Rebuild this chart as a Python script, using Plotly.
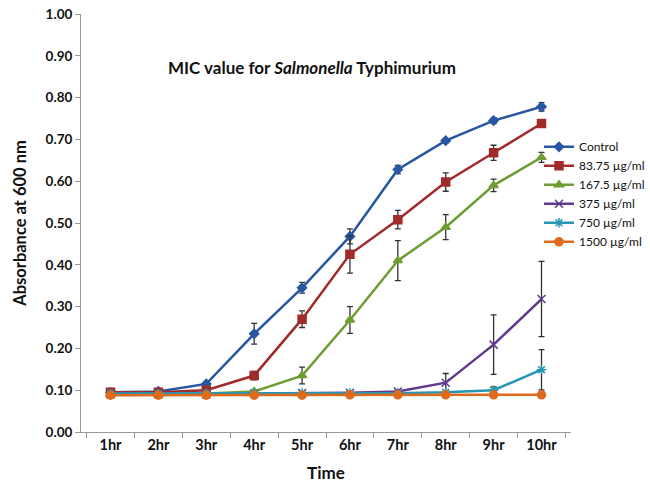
import plotly.graph_objects as go

hours = ["1hr", "2hr", "3hr", "4hr", "5hr", "6hr", "7hr", "8hr", "9hr", "10hr"]

control = [0.095, 0.097, 0.115, 0.235, 0.345, 0.468, 0.628, 0.697, 0.745, 0.778]
control_err = [0.003, 0.003, 0.005, 0.025, 0.013, 0.018, 0.010, 0.005, 0.007, 0.010]

c83 = [0.095, 0.095, 0.100, 0.135, 0.270, 0.425, 0.508, 0.598, 0.668, 0.738]
c83_err = [0.003, 0.003, 0.004, 0.010, 0.020, 0.045, 0.022, 0.022, 0.018, 0.005]

c167 = [0.090, 0.090, 0.092, 0.097, 0.135, 0.268, 0.410, 0.490, 0.590, 0.657]
c167_err = [0.002, 0.002, 0.002, 0.003, 0.020, 0.032, 0.048, 0.030, 0.015, 0.012]

c375 = [0.090, 0.090, 0.090, 0.092, 0.093, 0.094, 0.097, 0.118, 0.209, 0.318]
c375_err = [0.002, 0.002, 0.002, 0.002, 0.003, 0.003, 0.004, 0.022, 0.071, 0.090]

c750 = [0.092, 0.092, 0.092, 0.092, 0.093, 0.093, 0.093, 0.095, 0.100, 0.149]
c750_err = [0.002, 0.002, 0.002, 0.002, 0.003, 0.003, 0.003, 0.003, 0.008, 0.048]

c1500 = [0.088, 0.088, 0.088, 0.088, 0.088, 0.089, 0.089, 0.089, 0.089, 0.089]
c1500_err = [0.001, 0.001, 0.001, 0.001, 0.001, 0.001, 0.001, 0.001, 0.001, 0.001]

series = [
    ("Control", control, control_err, "#2856A3", "diamond", 7),
    ("83.75 µg/ml", c83, c83_err, "#A12A2B", "square", 8),
    ("167.5 µg/ml", c167, c167_err, "#6E9E33", "triangle-up", 8),
    ("375 µg/ml", c375, c375_err, "#5F3A8E", "x-thin", 8),
    ("750 µg/ml", c750, c750_err, "#2596B4", "asterisk", 8),
    ("1500 µg/ml", c1500, c1500_err, "#E06A1B", "circle", 8),
]

FONT = "Lato, 'Open Sans', sans-serif"

fig = go.Figure()
for name, vals, err, color, sym, size in series:
    fig.add_trace(go.Scatter(
        x=hours, y=vals, name=name, mode="lines+markers",
        line=dict(color=color, width=2.5),
        marker=dict(symbol=sym, size=size, color=color,
                    line=dict(color=color, width=1.5)),
        error_y=dict(type="data", array=err, visible=True,
                     color="#333333", thickness=1.3, width=3),
    ))

fig.update_layout(
    width=650, height=486,
    margin=dict(l=81, r=79, t=14, b=54, autoexpand=False),
    paper_bgcolor="white", plot_bgcolor="white",
    font=dict(family=FONT, color="#111111"),
    showlegend=True,
    legend=dict(xref="container", x=1.0, y=0.717, xanchor="right", yanchor="top",
                font=dict(size=12, family=FONT, color="#111111"),
                tracegroupgap=0, itemwidth=30, bgcolor="rgba(0,0,0,0)"),
    annotations=[dict(
        text="<b>MIC value for <i>Salmonella</i> Typhimurium</b>",
        x=0.471, y=0.903, xref="paper", yref="paper",
        showarrow=False, font=dict(size=17, family=FONT, color="#111111"),
    )],
)

fig.update_xaxes(
    type="category", tickson="boundaries",
    showline=True, linecolor="#999999", linewidth=1,
    ticks="outside", ticklen=5, tickcolor="#999999",
    showgrid=False, zeroline=False,
    tickfont=dict(size=14.5, family=FONT, color="#111111"),
    tickprefix="<b>", ticksuffix="</b>",
    title=dict(text="<b>Time</b>", font=dict(size=17, family=FONT), standoff=14),
)
fig.update_yaxes(
    range=[0, 1], dtick=0.1, tickformat=".2f",
    showline=True, linecolor="#999999", linewidth=1,
    ticks="outside", ticklen=5, tickcolor="#999999",
    showgrid=False, zeroline=False,
    tickfont=dict(size=13.5, family=FONT, color="#111111"),
    tickprefix="<b>", ticksuffix="</b>",
    title=dict(text="<b>Absorbance at 600 nm</b>", font=dict(size=16.5, family=FONT), standoff=14),
)

fig.write_html("out.html", config={"displayModeBar": False},
               post_script="document.body.style.margin='0';document.body.style.overflow='hidden';")
